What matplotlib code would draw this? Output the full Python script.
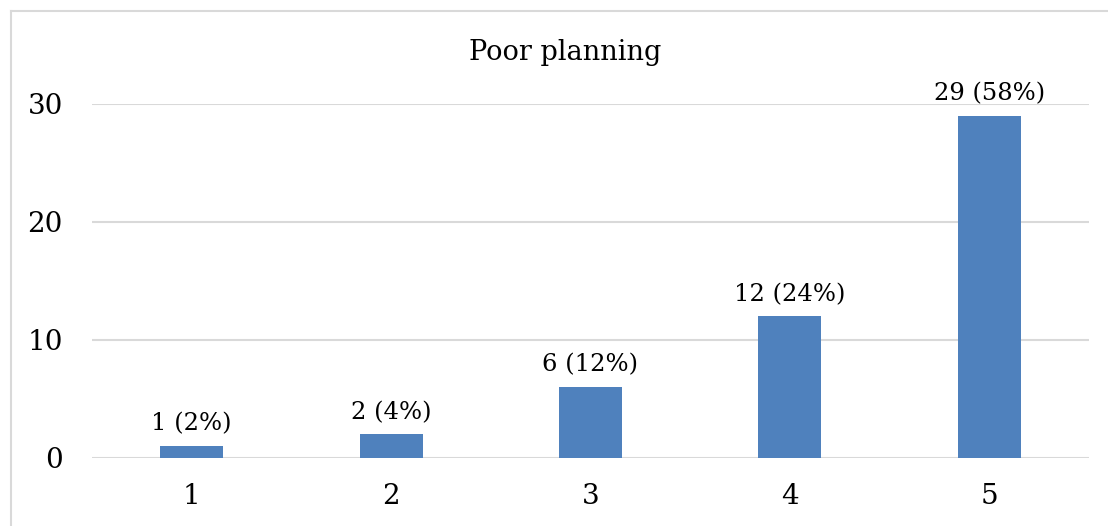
import matplotlib
matplotlib.use("Agg")
import matplotlib.pyplot as plt
from matplotlib.lines import Line2D

plt.rcParams["font.family"] = ["DejaVu Serif"]

# survey responses, rating scale 1-5
categories = ["1", "2", "3", "4", "5"]
counts = [1, 2, 6, 12, 29]
percents = [2, 4, 12, 24, 58]
yticks = [0, 10, 20, 30]

fig = plt.figure(figsize=(11.08, 5.26), dpi=100)
ax = fig.add_axes([92 / 1108, 1 - 458 / 526, 997 / 1108, 354 / 526])

# outer chart frame: only the top and left edges fall inside the canvas
fx, fy = 10.5 / 1108, 1 - 10.5 / 526
fig.lines.append(Line2D([fx, 1.0], [fy, fy], transform=fig.transFigure,
                        color="#d9d9d9", linewidth=1.5))
fig.lines.append(Line2D([fx, fx], [0.0, fy], transform=fig.transFigure,
                        color="#d9d9d9", linewidth=1.5))

x = range(len(categories))
bars = ax.bar(x, counts, width=0.316, color="#4f81bd", zorder=3)

for xi, c, p in zip(x, counts, percents):
    ax.text(xi, c + 0.9, f"{c} ({p}%)", ha="center", va="bottom",
            fontsize=17.5, clip_on=False)

ax.set_xlim(-0.5, len(categories) - 0.5)
ax.set_ylim(0, 30)
ax.set_yticks(yticks)
ax.set_xticks(list(x))
ax.set_xticklabels(categories)
ax.tick_params(axis="both", length=0, labelsize=20)
ax.tick_params(axis="y", pad=21)
ax.tick_params(axis="x", pad=18)
ax.grid(axis="y", color="#d9d9d9", linewidth=1.5, zorder=0)
for s in ax.spines.values():
    s.set_visible(False)

fig.text(565 / 1108, 1 - 53 / 526, "Poor planning", ha="center", va="center",
         fontsize=19.5)

fig.savefig("out.png", dpi=100)
